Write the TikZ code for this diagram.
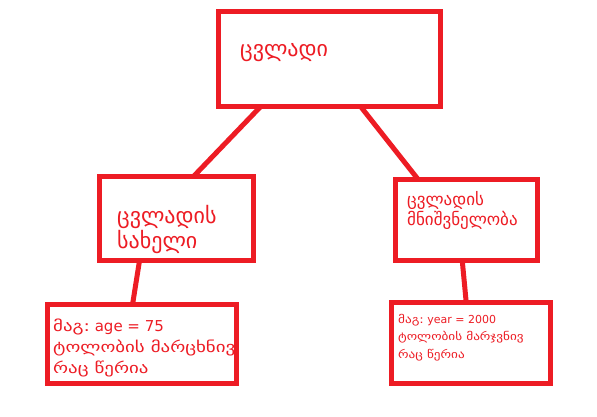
\documentclass[tikz,border=0pt]{standalone}
\usepackage{fontspec}
\newfontfamily\geo{DejaVu Sans}
\newfontfamily\geoa[FakeStretch=1.26]{DejaVu Sans}
\newfontfamily\geob[FakeStretch=1.2]{DejaVu Sans}
\usetikzlibrary{calc}
\definecolor{pred}{HTML}{ED1C24}
\tikzset{
  box/.style={draw=pred, line width=5pt, outer sep=0pt, inner sep=0pt, fill=white},
  conn/.style={draw=pred, line width=5pt},
  lbl/.style={text=pred, inner sep=0pt, anchor=base west, align=left}
}
\begin{document}
\begin{tikzpicture}[x=1pt,y=-1pt]
\useasboundingbox (0,0) rectangle (597,416);
\node[box, minimum width=222pt, minimum height=95pt] (top) at (329.5,59) {};
\node[box, minimum width=154pt, minimum height=84pt] (lm) at (176.5,218.5) {};
\node[box, minimum width=142pt, minimum height=81pt] (rm) at (466.5,220) {};
\node[box, minimum width=189pt, minimum height=79pt] (lb) at (142,344) {};
\node[box, minimum width=159pt, minimum height=81pt] (rb) at (471,343) {};
\draw[conn] ($(top.south west)!0.19!(top.south east)$) -- ($(lm.north west)!0.61!(lm.north east)$);
\draw[conn] ($(top.south west)!0.64!(top.south east)$) -- ($(rm.north west)!0.16!(rm.north east)$);
\draw[conn] ($(lm.south west)!0.26!(lm.south east)$) -- ($(lb.north west)!0.45!(lb.north east)$);
\draw[conn] ($(rm.south west)!0.47!(rm.south east)$) -- ($(rb.north west)!0.47!(rb.north east)$);
\node[lbl, font=\geo\fontsize{22}{26}\selectfont] (t1) at (240,56) {ცვლადი};
\node[lbl, font=\geo\fontsize{22}{23}\selectfont] (t2) at (117,248) {ცვლადის\\სახელი};
\node[lbl, font=\geo\fontsize{17}{18}\selectfont] (t3) at (407,225) {ცვლადის\\მნიშვნელობა};
\node[lbl, font=\geoa\fontsize{15}{21}\selectfont] (t4) at (53,373) {მაგ:{\geo\ age = 75}\\ტოლობის მარცხნივ\\რაც წერია};
\node[lbl, font=\geob\fontsize{11}{17.5}\selectfont] (t5) at (398,358) {მაგ:{\geo\ year = 2000}\\ტოლობის მარჯვნივ\\რაც წერია};
\end{tikzpicture}
\end{document}
